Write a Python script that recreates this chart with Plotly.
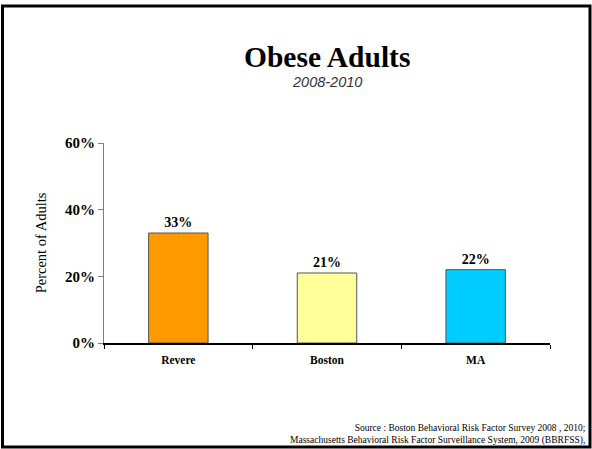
import plotly.graph_objects as go

categories = ["Revere", "Boston", "MA"]
values = [33, 21, 22]
bar_colors = ["#FF9900", "#FFFF99", "#00CCFF"]
y_ticks = [0, 20, 40, 60]
y_tick_labels = ["0%", "20%", "40%", "60%"]

W, H = 592, 449
L, R, T, B = 104, 42, 143, 106
PW, PH = W - L - R, H - T - B

def px(x):
    return (x - L) / PW

def py(y):
    return (H - B - y) / PH

SERIF = "Liberation Serif, Times New Roman, serif"

fig = go.Figure()
fig.add_trace(go.Bar(
    x=categories, y=values,
    marker=dict(color=bar_colors, line=dict(color="#555555", width=1)),
    text=[f"{v}%" for v in values], textposition="outside",
    textfont=dict(family=SERIF, size=14, color="black", weight="bold"),
    cliponaxis=False, width=0.4,
))

fig.update_layout(
    width=W, height=H,
    margin=dict(l=L, r=R, t=T, b=B),
    paper_bgcolor="white", plot_bgcolor="white",
    showlegend=False,
    xaxis=dict(
        showline=True, linecolor="black", linewidth=1.5,
        ticks="outside", tickson="boundaries", ticklen=4, tickcolor="black",
        tickfont=dict(family=SERIF, size=11.5, color="black", weight="bold"),
        ticklabelstandoff=5,
        showgrid=False,
    ),
    yaxis=dict(
        range=[0, 60], tickvals=y_ticks, ticktext=y_tick_labels,
        showline=True, linecolor="#808080", linewidth=1,
        ticks="outside", ticklen=5, tickcolor="#808080",
        tickfont=dict(family=SERIF, size=15, color="black", weight="bold"),
        showgrid=False, zeroline=False,
        title=dict(text="Percent of Adults", font=dict(family=SERIF, size=14.5, color="black"), standoff=14),
    ),
    annotations=[
        dict(text="<b>Obese Adults</b>", x=0.5, xref="paper", xanchor="center",
             y=py(57), yref="paper", yanchor="middle", showarrow=False,
             font=dict(family=SERIF, size=29.5, color="black")),
        dict(text="<i>2008-2010</i>", x=0.5, xref="paper", xanchor="center",
             y=py(82), yref="paper", yanchor="middle", showarrow=False,
             font=dict(family="Liberation Sans, Arial, sans-serif", size=14.5, color="#333333")),
        dict(text="Source : Boston Behavioral Risk Factor Survey 2008 , 2010;<br>Massachusetts Behavioral Risk Factor Surveillance System, 2009 (BBRFSS),",
             x=px(587), xref="paper", xanchor="right", align="right",
             y=py(447.5), yref="paper", yanchor="bottom", showarrow=False,
             font=dict(family=SERIF, size=9.5, color="black")),
    ],
    shapes=[
        dict(type="rect", xref="paper", yref="paper",
             x0=px(2.5), x1=px(590), y0=py(447), y1=py(6),
             line=dict(color="black", width=3), fillcolor="rgba(0,0,0,0)", layer="below"),
    ],
)

fig.write_html("out.html", config={"displayModeBar": False},
               post_script="document.body.style.margin='0';document.body.style.padding='0';")
